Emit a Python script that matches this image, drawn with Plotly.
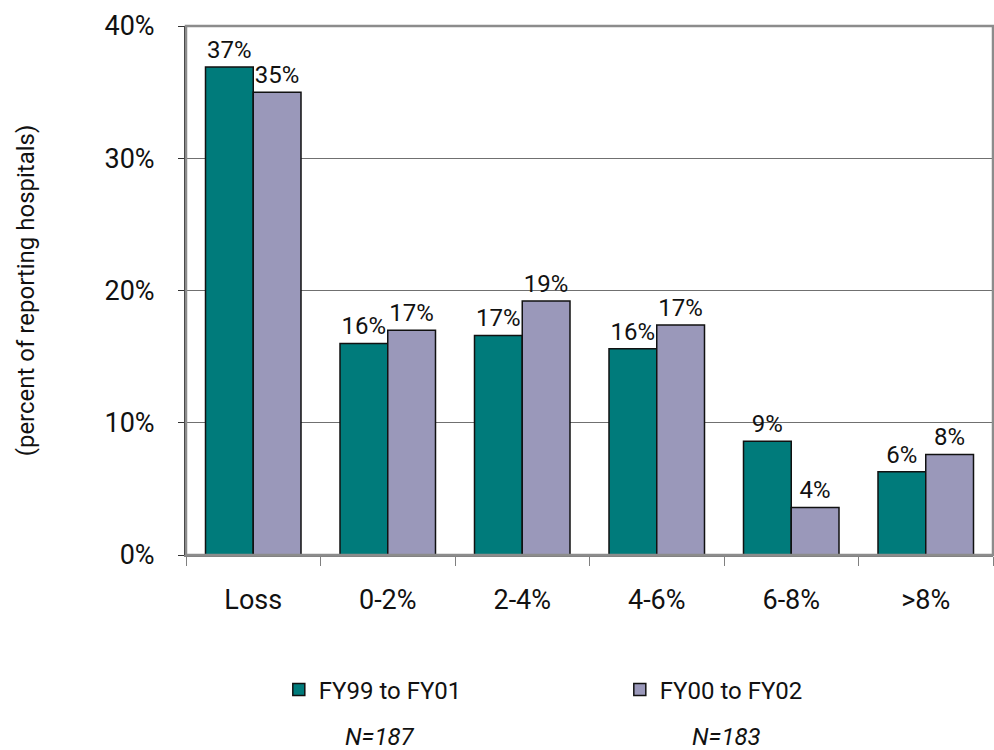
import plotly.graph_objects as go

# Operating margin bands and share of reporting hospitals in each (percent)
categories = ["Loss", "0-2%", "2-4%", "4-6%", "6-8%", ">8%"]
fy99_fy01 = [36.9, 16.0, 16.6, 15.6, 8.6, 6.3]
fy00_fy02 = [35.0, 17.0, 19.2, 17.4, 3.6, 7.6]
series_names = ["FY99 to FY01", "FY00 to FY02"]
sample_sizes = ["N=187", "N=183"]
y_ticks = [0, 10, 20, 30, 40]

FONT = "Roboto, Liberation Sans, sans-serif"
TEAL = "#007b7b"
LAVENDER = "#9a98ba"

fig = go.Figure()
for name, vals, color in [(series_names[0], fy99_fy01, TEAL),
                          (series_names[1], fy00_fy02, LAVENDER)]:
    fig.add_trace(go.Bar(
        name=name,
        x=categories,
        y=vals,
        marker=dict(color=color, line=dict(color="#111111", width=1.5)),
        text=[f"{round(v)}%" for v in vals],
        textposition="outside",
        cliponaxis=False,
        textfont=dict(family=FONT, size=24, color="#111111"),
    ))

fig.update_layout(
    width=994, height=750,
    margin=dict(l=186, r=1, t=26, b=195),
    paper_bgcolor="white", plot_bgcolor="white",
    barmode="group", bargap=0.29, bargroupgap=0,
    font=dict(family=FONT, size=26, color="#111111"),
    showlegend=True,
    legend=dict(
        orientation="h", x=0.115, y=-0.255, xanchor="left", yanchor="middle",
        font=dict(family=FONT, size=24, color="#111111"),
        entrywidth=296, traceorder="normal",
    ),
    xaxis=dict(
        showline=True, linecolor="#808080", linewidth=2,
        ticks="outside", tickson="boundaries", ticklen=9, tickcolor="#808080",
        ticklabelstandoff=20,
        tickfont=dict(family=FONT, size=27, color="#111111"),
        showgrid=False,
    ),
    yaxis=dict(
        range=[0, 40], tickvals=y_ticks, ticktext=[f"{t}%" for t in y_ticks],
        showline=True, linecolor="#333333", linewidth=2,
        ticks="outside", ticklen=6, tickcolor="#333333",
        ticklabelstandoff=18,
        showgrid=True, gridcolor="#707070", gridwidth=1,
        zeroline=False,
        tickfont=dict(family=FONT, size=27, color="#111111"),
        title=dict(text="(percent of reporting hospitals)",
                   font=dict(family=FONT, size=24, color="#111111"),
                   standoff=63),
    ),
    shapes=[dict(type="rect", xref="paper", yref="paper", x0=0, x1=1, y0=0, y1=1,
                 line=dict(color="#8c8c8c", width=2.5), layer="above")],
)

# Sample size under each legend entry
for x, txt in zip([0.240, 0.670], sample_sizes):
    fig.add_annotation(x=x, y=-0.344, xref="paper", yref="paper",
                       xanchor="center", yanchor="middle",
                       text=f"<i>{txt}</i>", showarrow=False,
                       font=dict(family=FONT, size=24, color="#111111"))

fig.write_html("out.html")
